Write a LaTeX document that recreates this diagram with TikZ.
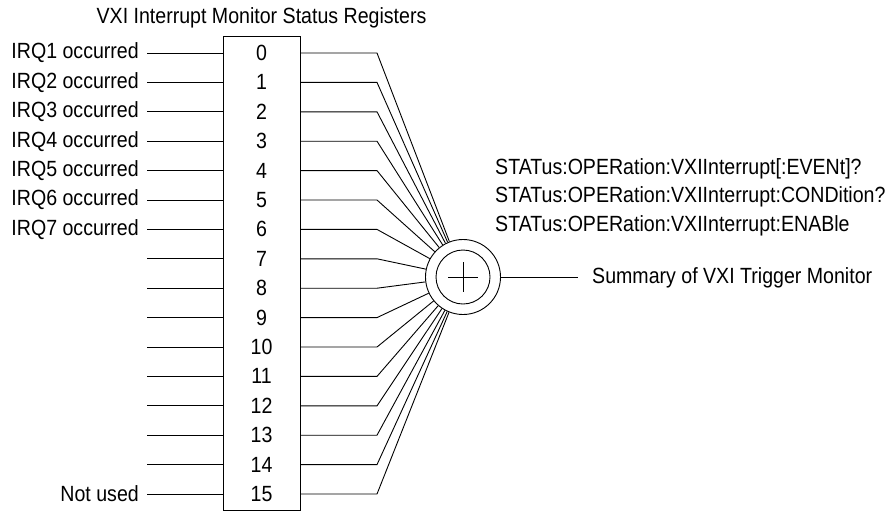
\documentclass[tikz,border=0pt]{standalone}
\usepackage{fontspec}
\setmainfont{Liberation Sans}[FakeStretch=0.89]
\usetikzlibrary{positioning, calc}

\begin{document}
\begin{tikzpicture}[
    x=1pt, y=-1pt,
    font=\fontsize{22}{28.5}\selectfont,
    wire/.style={line width=0.9pt},
    regbox/.style={draw, line width=0.9pt, minimum width=77pt, minimum height=474pt, inner sep=0pt},
    bitnum/.style={inner sep=0pt},
    irqlabel/.style={inner sep=0pt, anchor=east},
    sumring/.style={draw, circle, line width=0.9pt, inner sep=0pt}
]
\useasboundingbox (0,0) rectangle (890,512);

% Register
\node[regbox] (reg) at (261.5,273) {};
\node (title) at (261.5,18) {VXI Interrupt Monitor Status Registers};

% Summary
\node[sumring, minimum size=75pt] (sum) at (463,277) {};
\node[sumring, minimum size=54pt] (suminner) at (sum) {};
\draw[wire] ($(sum)+(-15,0)$) -- ($(sum)+(15,0)$);
\draw[wire] ($(sum)+(0,-15)$) -- ($(sum)+(0,15)$);

% Bits
\foreach \i/\txt in {0/IRQ1 occurred, 1/IRQ2 occurred, 2/IRQ3 occurred,
    3/IRQ4 occurred, 4/IRQ5 occurred, 5/IRQ6 occurred, 6/IRQ7 occurred,
    7/, 8/, 9/, 10/, 11/, 12/, 13/, 14/, 15/Not used} {
  \node[bitnum] (b\i) at (261.5, 53+29.4*\i) {\i};
  \coordinate (l\i) at (147, 53+29.4*\i);
  \coordinate (r\i) at (377, 53+29.4*\i);
  \node[irqlabel, left=8pt of l\i] (t\i) {\txt};
  \draw[wire] (l\i) -- (l\i -| reg.west);
  \draw[wire] (b\i -| reg.east) -- (r\i) -- (sum);
}

% Output
\coordinate (out) at (578,277);
\draw[wire] (sum) -- (out);
\node[anchor=west, inner sep=0pt] (summary) at (592,278) {Summary of VXI Trigger Monitor};
\node[anchor=west, align=left, inner sep=0pt] (cmds) at (495,197)
  {STATus:OPERation:VXIInterrupt[:EVENt]?\\
   STATus:OPERation:VXIInterrupt:CONDition?\\
   STATus:OPERation:VXIInterrupt:ENABle};

\end{tikzpicture}
\end{document}
